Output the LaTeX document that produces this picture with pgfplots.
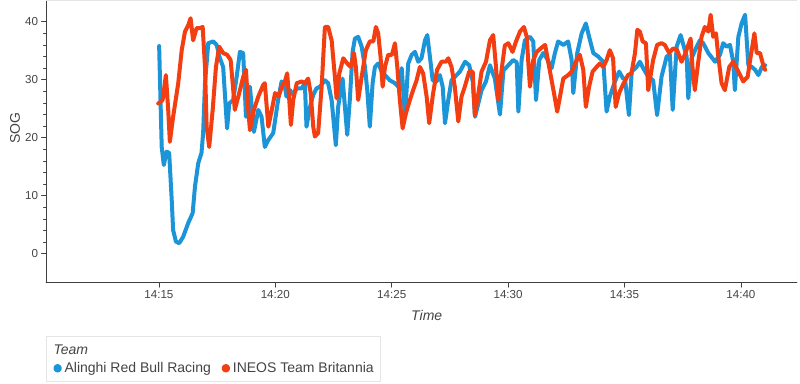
\documentclass[border=0pt]{standalone}
\usepackage{fontspec}
\setmainfont{Liberation Sans}
\usepackage{pgfplots}
\pgfplotsset{compat=1.18}
\definecolor{ablue}{RGB}{28,148,216}
\definecolor{ired}{RGB}{243,62,18}
\definecolor{txt}{HTML}{444444}
\definecolor{framec}{HTML}{E5E5E5}
\begin{document}
\begin{tikzpicture}
\path[use as bounding box] (0pt,0pt) rectangle (800pt,383pt);
\draw[framec, fill=white, line width=0.8pt] (46pt,1.3pt) rectangle (380pt,47pt);
\node[anchor=west, inner sep=0pt, font=\fontsize{14}{16}\selectfont\itshape, text=txt] at (53.3pt,33.7pt) {Team};
\begin{axis}[
 at={(46pt,100.3pt)}, anchor=south west, scale only axis,
 width=751pt, height=282.2pt,
 xmin=10.15, xmax=42.41, ymin=-5, ymax=43.66,
 axis lines*=left, axis line style={-, draw=black!75, line width=0.8pt},
 xtick={15,20,25,30,35,40}, xticklabels={14:15,14:20,14:25,14:30,14:35,14:40},
 ytick={0,10,20,30,40}, minor y tick num=4,
 tick align=outside, major tick length=4.5pt, minor tick length=2.5pt,
 tick style={draw=black!75, line width=0.8pt},
 ticklabel style={font=\fontsize{11.6}{13}\selectfont, text=txt},
 /pgf/number format/assume math mode=true,
 legend style={at={(0.0085,-0.3033)}, anchor=west, draw=none, fill=none, inner sep=0pt,
   legend columns=-1, font=\fontsize{14}{16}\selectfont, text=txt,
   /tikz/every even column/.append style={column sep=8pt}},
 legend image code/.code={\path (0pt,0pt) -- (6pt,0pt); \fill[#1] (3pt,0pt) circle (2.2pt);},
 line join=round, line cap=round,
]
\draw[framec, line width=0.8pt] (rel axis cs:0,1) -- (rel axis cs:1,1) -- (rel axis cs:1,0);
\addplot[ablue, line width=4pt] table {
15.01 35.8
15.12 18.4
15.21 15.3
15.33 17.6
15.44 17.4
15.55 9.3
15.61 4.1
15.73 2.1
15.87 1.8
16.04 2.9
16.26 5.3
16.45 7.0
16.55 11.6
16.69 15.6
16.83 17.4
16.90 20.8
16.98 29.4
17.12 36.3
17.33 36.6
17.48 36.0
17.62 33.7
17.76 32.2
17.93 21.6
18.02 25.9
18.19 26.5
18.34 30.5
18.48 34.8
18.62 34.6
18.74 23.6
18.91 28.8
19.08 21.0
19.27 24.8
19.41 23.6
19.55 18.4
19.70 19.6
19.91 20.8
20.12 26.5
20.27 29.7
20.41 28.8
20.48 27.1
20.63 28.2
20.77 27.4
20.92 28.5
21.13 28.5
21.27 29.4
21.34 21.9
21.49 25.3
21.63 27.4
21.77 28.5
21.92 28.8
22.13 29.9
22.27 29.4
22.42 26.5
22.60 18.7
22.70 25.3
22.89 30.2
23.09 20.5
23.20 26.5
23.32 34.8
23.42 37.1
23.56 37.4
23.71 35.7
23.85 32.2
23.95 28.2
24.06 21.9
24.18 29.4
24.28 32.2
24.42 32.8
24.57 31.4
24.78 30.5
24.92 29.9
25.14 29.4
25.28 28.8
25.43 32.0
25.57 23.6
25.71 32.8
25.86 34.3
26.00 34.8
26.14 33.1
26.28 33.7
26.43 36.8
26.53 37.7
26.64 34.0
26.76 29.9
26.93 29.7
27.07 30.8
27.19 28.8
27.29 22.5
27.43 26.5
27.57 29.9
27.93 31.4
28.15 33.1
28.33 32.5
28.48 29.7
28.58 23.6
28.72 25.9
28.86 28.2
29.05 29.7
29.22 32.5
29.43 30.2
29.65 24.0
29.80 31.6
30.01 32.5
30.22 33.4
30.37 33.0
30.44 24.5
30.58 33.4
30.72 36.8
30.94 37.4
31.08 36.6
31.20 26.5
31.34 33.4
31.51 34.6
31.66 33.7
31.87 32.0
32.01 34.6
32.15 36.6
32.37 36.0
32.58 36.6
32.73 33.4
32.80 27.7
32.97 34.6
33.16 38.0
33.34 39.7
33.48 37.4
33.66 34.6
33.87 34.0
34.09 33.1
34.23 24.5
34.37 27.1
34.59 29.7
34.77 31.4
34.94 30.2
35.02 30.2
35.19 23.9
35.31 31.4
35.52 32.2
35.66 33.1
35.80 32.0
36.02 30.5
36.23 29.9
36.40 23.9
36.59 30.5
36.81 34.0
36.95 34.3
37.07 24.8
37.24 35.7
37.41 37.7
37.55 35.7
37.67 34.0
37.74 26.8
37.88 33.7
38.10 35.7
38.24 36.8
38.38 36.3
38.60 34.6
38.89 33.1
39.10 34.3
39.24 36.3
39.39 35.7
39.53 36.0
39.67 33.1
39.74 28.2
39.89 37.4
40.03 39.7
40.18 41.2
40.25 36.8
40.32 32.5
40.47 32.2
40.61 31.7
40.75 30.8
40.90 32.2
41.04 32.5
};
\addlegendentry{Alinghi Red Bull Racing}
\addplot[ired, line width=4pt] table {
14.97 25.9
15.16 26.5
15.30 30.8
15.40 24.8
15.47 19.3
15.61 23.6
15.83 29.4
15.98 35.1
16.12 38.3
16.26 39.4
16.36 40.6
16.47 36.8
16.62 38.9
16.76 38.9
16.88 39.1
16.98 32.2
17.05 21.9
17.16 18.4
17.31 24.8
17.45 32.2
17.59 35.7
17.76 34.6
17.93 34.3
18.08 33.4
18.17 29.4
18.26 24.8
18.45 27.7
18.62 30.5
18.74 31.7
18.84 24.8
18.91 21.3
19.08 24.8
19.27 27.1
19.48 29.1
19.55 29.4
19.70 21.9
19.85 24.8
19.99 27.7
20.14 27.1
20.28 28.8
20.41 29.7
20.51 31.1
20.60 26.5
20.67 22.2
20.77 26.5
20.92 29.4
21.13 29.7
21.27 29.4
21.41 30.2
21.52 27.7
21.63 21.9
21.70 20.2
21.84 20.8
21.99 28.8
22.13 39.1
22.27 39.1
22.42 36.8
22.56 30.5
22.63 26.8
22.75 31.1
22.92 33.7
23.09 32.8
23.24 32.2
23.38 34.6
23.46 32.2
23.56 26.5
23.71 30.5
23.89 35.1
24.06 36.6
24.21 36.6
24.32 39.1
24.42 38.0
24.52 34.0
24.61 28.8
24.71 32.2
24.85 34.3
25.01 34.3
25.14 36.3
25.24 32.2
25.35 26.5
25.47 21.6
25.61 24.2
25.78 26.5
25.92 28.2
26.07 29.9
26.21 32.2
26.35 31.1
26.50 27.1
26.61 22.5
26.78 27.7
26.95 31.7
27.14 33.1
27.33 33.1
27.43 33.7
27.57 32.2
27.71 28.8
27.86 22.8
28.00 27.1
28.14 28.8
28.33 31.4
28.48 31.4
28.57 23.9
28.70 27.0
28.86 31.4
29.05 33.1
29.22 36.8
29.36 37.7
29.48 32.2
29.58 26.5
29.72 31.7
29.86 35.9
30.01 36.3
30.19 34.8
30.34 36.6
30.51 38.3
30.68 39.1
30.80 37.4
30.87 32.8
30.94 28.8
31.08 33.4
31.23 34.8
31.40 35.4
31.59 36.0
31.80 31.4
31.97 27.7
32.11 24.5
32.23 27.1
32.37 30.2
32.58 30.8
32.73 31.4
32.91 33.1
33.08 34.3
33.23 31.7
33.34 25.3
33.48 28.8
33.63 31.4
33.80 32.2
33.94 32.8
34.09 32.2
34.23 33.4
34.37 35.1
34.51 33.7
34.62 25.3
34.77 27.7
34.94 29.2
35.15 30.8
35.30 31.1
35.45 34.6
35.55 38.6
35.66 38.3
35.78 36.6
35.92 36.3
36.02 28.2
36.23 33.4
36.40 36.0
36.59 36.3
36.73 36.0
36.92 34.6
37.09 35.4
37.26 35.1
37.45 33.1
37.59 34.3
37.74 36.0
37.84 37.1
37.92 32.2
38.02 28.2
38.16 32.8
38.31 37.4
38.45 39.1
38.60 38.3
38.70 41.2
38.81 37.4
38.93 38.0
39.03 34.0
39.17 29.4
39.31 28.2
39.50 32.2
39.67 33.1
39.89 31.4
40.10 29.7
40.29 30.5
40.42 34.0
40.58 38.0
40.68 34.6
40.82 34.6
40.96 32.5
41.04 31.7
};
\addlegendentry{INEOS Team Britannia}
\end{axis}
\node[rotate=90, font=\fontsize{14}{16}\selectfont, text=txt] at (15pt,255pt) {SOG};
\node[font=\fontsize{14}{16}\selectfont\itshape, text=txt] at (426.7pt,68pt) {Time};
\end{tikzpicture}
\end{document}
